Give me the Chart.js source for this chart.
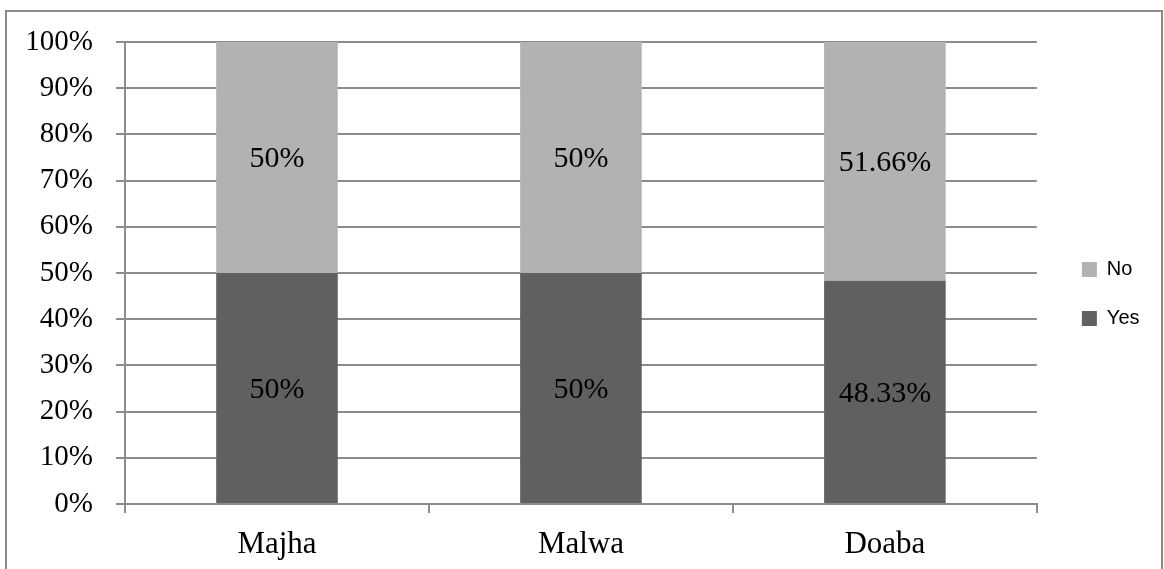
<!DOCTYPE html>
<html>
<head>
<meta charset="utf-8">
<title>Majha / Malwa / Doaba – Yes vs No</title>
<script src="https://cdn.jsdelivr.net/npm/chart.js@4/dist/chart.umd.min.js"></script>
<style>
  html, body { margin: 0; padding: 0; background: #ffffff; }
  canvas { display: block; }
</style>
</head>
<body>
<canvas id="chart" width="1164" height="569"></canvas>
<script>
// Regions on the category axis
const regions = ['Majha', 'Malwa', 'Doaba'];
// Share of answers per region, in percent
const yesValues = [50, 50, 48.33];
const noValues = [50, 50, 51.66];
// Value axis ticks
const yTicks = [0, 10, 20, 30, 40, 50, 60, 70, 80, 90, 100];

const GRID = '#8c8c8c';
const SERIF = '"Liberation Serif", "Times New Roman", serif';

// Thin frame around the whole figure
const framePlugin = {
  id: 'frame',
  beforeDraw(chart) {
    const ctx = chart.ctx;
    ctx.save();
    ctx.fillStyle = '#ffffff';
    ctx.fillRect(0, 0, chart.width, chart.height);
    ctx.strokeStyle = '#8a8a8a';
    ctx.lineWidth = 2;
    ctx.strokeRect(6, 11, 1156, 600);
    ctx.restore();
  }
};

// Value written in the middle of every bar segment
const segmentLabels = {
  id: 'segmentLabels',
  afterDatasetsDraw(chart) {
    const ctx = chart.ctx;
    ctx.save();
    ctx.font = '30px ' + SERIF;
    ctx.fillStyle = '#000000';
    ctx.textAlign = 'center';
    ctx.textBaseline = 'middle';
    chart.data.datasets.forEach((ds, di) => {
      const meta = chart.getDatasetMeta(di);
      meta.data.forEach((bar, i) => {
        const p = bar.getProps(['x', 'y', 'base'], true);
        ctx.fillText(ds.data[i] + '%', p.x, (p.y + p.base) / 2 + 2);
      });
    });
    ctx.restore();
  }
};

// Empty spacer axis: fixes a blank band of the given size
const spacer = (position, size) => ({
  type: 'category',
  position: position,
  display: true,
  grid: { display: false, drawTicks: false },
  border: { display: false },
  ticks: { display: false },
  afterFit(scale) {
    if (position === 'top') scale.height = size; else scale.width = size;
  }
});

new Chart(document.getElementById('chart'), {
  type: 'bar',
  data: {
    labels: regions,
    datasets: [
      { label: 'Yes', data: yesValues, backgroundColor: '#606060', borderWidth: 0 },
      { label: 'No', data: noValues, backgroundColor: '#b2b2b2', borderWidth: 0 }
    ]
  },
  options: {
    responsive: false,
    animation: false,
    devicePixelRatio: 1,
    categoryPercentage: 1,
    barPercentage: 0.4,
    layout: { padding: { top: 25, left: 0, right: 14.5, bottom: 6 } },
    plugins: {
      legend: {
        position: 'right',
        align: 'center',
        reverse: true,
        labels: {
          boxWidth: 15,
          boxHeight: 15,
          padding: 29,
          color: '#000000',
          font: { family: '"Liberation Sans", Arial, sans-serif', size: 20 }
        }
      },
      tooltip: { enabled: false }
    },
    scales: {
      x: {
        stacked: true,
        offset: true,
        grid: {
          offset: true,
          drawOnChartArea: false,
          drawTicks: true,
          tickLength: 9,
          color: GRID,
          lineWidth: 2
        },
        border: { display: true, color: GRID, width: 2 },
        ticks: {
          color: '#000000',
          padding: 13,
          maxRotation: 0,
          font: { family: SERIF, size: 31 }
        },
        afterFit(scale) { scale.height = 59; }
      },
      y: {
        stacked: true,
        min: 0,
        max: 100,
        afterBuildTicks(scale) { scale.ticks = yTicks.map(v => ({ value: v })); },
        grid: {
          color: GRID,
          lineWidth: 2,
          drawTicks: true,
          tickLength: 9
        },
        border: { display: true, color: GRID, width: 2 },
        ticks: {
          color: '#000000',
          padding: 23,
          font: { family: SERIF, size: 29 },
          callback: v => v + '%'
        },
        afterFit(scale) { scale.width = 125; }
      },
      topGap: spacer('top', 17),
      rightGap: spacer('right', 16)
    }
  },
  plugins: [framePlugin, segmentLabels]
});
</script>
</body>
</html>
